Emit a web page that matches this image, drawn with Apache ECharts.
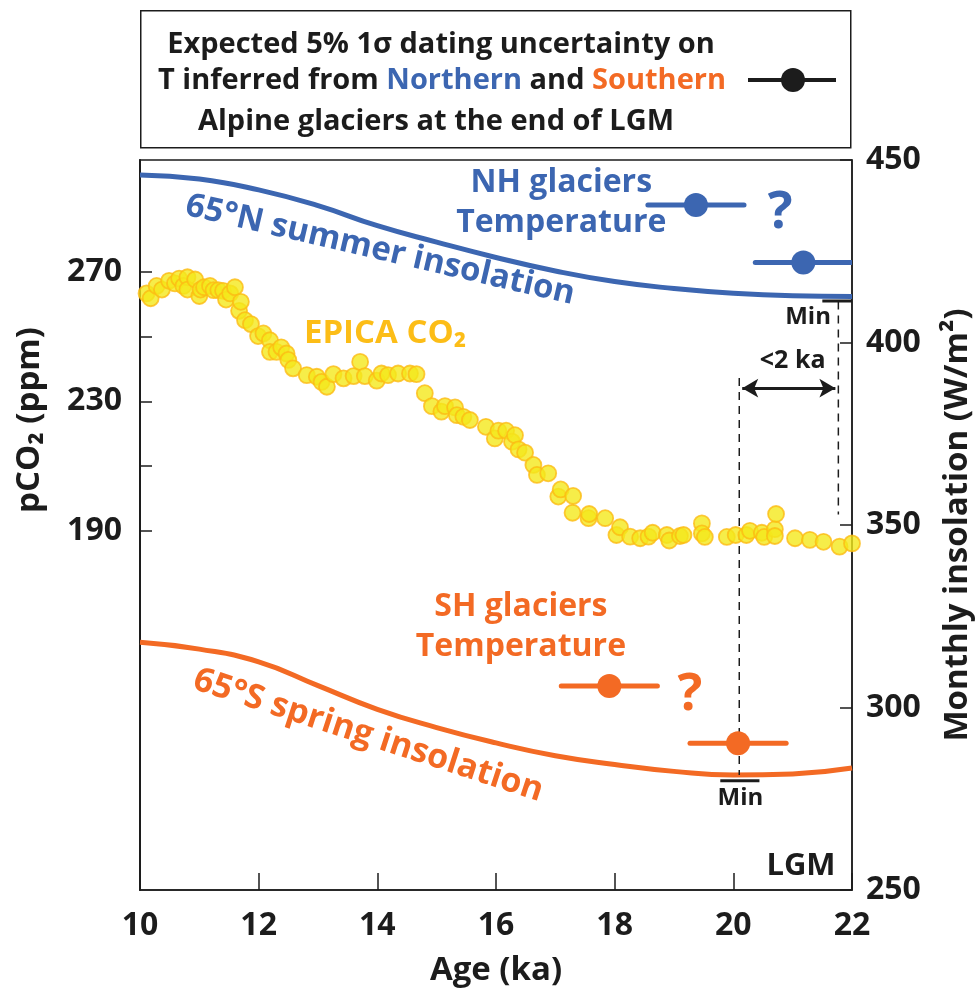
<!DOCTYPE html>
<html>
<head>
<meta charset="utf-8">
<script src="https://cdn.jsdelivr.net/npm/echarts@6/dist/echarts.min.js"></script>
<style>
  html, body { margin: 0; padding: 0; background: #fff; }
  #chart { width: 977px; height: 989px; }
</style>
</head>
<body>
<div id="chart"></div>
<script>
// EPICA CO2 (age ka, ppm)
const co2Age = [9.95, 10.11, 10.18, 10.28, 10.37, 10.49, 10.59, 10.66, 10.73, 10.8, 10.8, 10.93, 11.0, 11.02, 11.08,
  11.18, 11.24, 11.32, 11.4, 11.45, 11.52, 11.6, 11.67, 11.7, 11.77, 11.87, 11.99, 12.08, 12.19, 12.19, 12.3, 12.38,
  12.47, 12.5, 12.58, 12.81, 12.98, 13.06, 13.15, 13.26, 13.43, 13.6, 13.71, 13.79, 13.99, 14.07, 14.18, 14.35, 14.55,
  14.66, 14.8, 14.92, 15.08, 15.14, 15.31, 15.34, 15.45, 15.56, 15.83, 15.98, 16.04, 16.17, 16.27, 16.32, 16.38, 16.49,
  16.63, 16.69, 16.88, 17.05, 17.09, 17.29, 17.3, 17.56, 17.57, 17.84, 18.03, 18.09, 18.26, 18.43, 18.57, 18.64, 18.88,
  18.92, 19.1, 19.16, 19.47, 19.47, 19.52, 19.89, 20.04, 20.22, 20.28, 20.48, 20.52, 20.7, 20.7, 20.72, 21.04, 21.29,
  21.52, 21.79, 22.0];
const co2Ppm = [264.2, 263.4, 261.9, 265.7, 264.6, 267.3, 266.5, 268, 265.7, 268.4, 264.6, 267.7, 262.6, 264.6, 265.3,
  265.7, 264.4, 264.4, 264.2, 261.5, 263.4, 265.3, 258, 260.8, 255.1, 253.9, 250.2, 251, 248.9, 245.3, 245.3, 246.7,
  244.8, 242.8, 240.2, 238.1, 237.6, 236, 234.5, 238.4, 237.1, 237.8, 242.2, 237.8, 236.4, 238.6, 238.1, 238.6, 238.6,
  238.4, 232.5, 228.5, 226.8, 228.5, 228.1, 225.7, 225.2, 224.2, 222.1, 218.5, 220.9, 220.9, 217.5, 219.5, 215.1, 214.1,
  210.3, 207.2, 207.7, 200.5, 202.7, 195.5, 200.7, 193.8, 195.1, 193.8, 188.6, 191, 188.1, 187.6, 188.1, 189.3, 188.6,
  186.9, 188.3, 188.6, 192.2, 189.1, 188, 188, 188.6, 188.6, 189.9, 189.3, 188, 190.4, 188.3, 195.1, 187.6, 187.1,
  186.5, 185, 186];

// insolation curves (W/m2)
const insAge = [10, 11, 12, 13, 14, 15, 16, 17, 18, 19, 20, 21, 22];
const nhSummer = [445.9, 444.8, 441.8, 437.5, 432.0, 427.5, 423.3, 419.6, 416.7, 414.8, 413.5, 412.8, 412.6];
const shSpring = [317.9, 316.0, 312.5, 306.0, 299.5, 294.5, 290.3, 286.8, 284.4, 282.5, 281.5, 281.8, 283.4];

// glacier temperature timing, 1 sigma error (ka)
const nhGlacier = [[19.37, 437.7, 0.81], [21.18, 421.9, 0.81]];
const shGlacier = [[17.91, 305.9, 0.81], [20.08, 290.2, 0.81]];

// annotation lines
const lgmDash = [[20.1, 390.3], [20.1, 281.5]];
const nhMinDash = [[21.77, 411.2], [21.77, 352.9]];
const nhMinBar = [[21.5, 411.4], [22, 411.4]];
const shMinBar = [[19.78, 279.9], [20.44, 279.9]];
const lagArrow = [[20.15, 387.5], [21.72, 387.5]];

const co2Ticks = [190, 210, 230, 250, 270];
const co2Labels = [190, 230, 270];

const BLUE = '#3c66b1';
const ORANGE = '#f36a24';
const INK = '#1c1c1c';
const FONT = '"Open Sans", "Noto Sans", sans-serif';

const chart = echarts.init(document.getElementById('chart'));

function errBar(color) {
  return function (params, api) {
    const x = api.value(0), y = api.value(1), e = api.value(2);
    const c = api.coord([x, y]);
    const l = api.coord([x - e, y]);
    const r = api.coord([x + e, y]);
    return {
      type: 'group',
      children: [
        { type: 'line', shape: { x1: l[0], y1: l[1], x2: r[0], y2: r[1] },
          style: { stroke: color, lineWidth: 5, lineCap: 'round' } },
        { type: 'circle', shape: { cx: c[0], cy: c[1], r: 12 }, style: { fill: color } }
      ]
    };
  };
}

function note(text, x, y, color, size, rotate) {
  return {
    value: [x, y],
    label: {
      show: true, position: 'inside', formatter: text, color: color,
      fontSize: size, fontWeight: 'bold', fontFamily: FONT, rotate: rotate || 0,
      lineHeight: size * 1.25, textBorderWidth: 0, opacity: 1
    }
  };
}

function segment(data, dashed, width) {
  return {
    type: 'line', yAxisIndex: 1, data: data, symbol: 'none', silent: true,
    lineStyle: { color: INK, width: width || 1.5, type: dashed ? [8, 6] : 'solid' },
    z: 3
  };
}

const tickFont = { fontSize: 32, fontWeight: 'bold', color: INK, fontFamily: FONT };
const nameFont = { fontSize: 33, fontWeight: 'bold', color: INK, fontFamily: FONT };
const boxRich = {
  k: { fontSize: 29, fontWeight: 'bold', fill: INK, fontFamily: FONT },
  b: { fontSize: 29, fontWeight: 'bold', fill: BLUE, fontFamily: FONT },
  o: { fontSize: 29, fontWeight: 'bold', fill: ORANGE, fontFamily: FONT }
};

const option = {
  animation: false,
  grid: {
    left: 140, right: 125, top: 160, bottom: 99, show: true, borderColor: INK, borderWidth: 1.5,
    outerBoundsMode: 'none', containLabel: false
  },
  xAxis: {
    type: 'value', min: 10, max: 22, interval: 2,
    name: 'Age (ka)', nameLocation: 'middle', nameGap: 64, nameTextStyle: nameFont,
    axisLine: { lineStyle: { color: INK, width: 1.5 } },
    axisTick: { inside: true, length: 17, lineStyle: { color: INK, width: 1.5 } },
    axisLabel: Object.assign({ margin: 20 }, tickFont),
    splitLine: { show: false }
  },
  yAxis: [
    {
      type: 'value', min: 78.7, max: 304.7, position: 'left',
      axisLine: { show: true, lineStyle: { color: INK, width: 2 } },
      axisTick: { inside: true, length: 12, customValues: co2Ticks, lineStyle: { color: INK, width: 1.5 } },
      axisLabel: Object.assign({ customValues: co2Labels, margin: 18 }, tickFont),
      splitLine: { show: false }
    },
    {
      type: 'value', min: 250, max: 450, interval: 50, position: 'right',
      name: 'Monthly insolation (W/m²)', nameLocation: 'middle', nameGap: 89, nameRotate: 90,
      nameTextStyle: nameFont,
      axisLine: { show: true, lineStyle: { color: INK, width: 1.5 } },
      axisTick: { inside: true, length: 12, lineStyle: { color: INK, width: 1.5 } },
      axisLabel: Object.assign({ margin: 14 }, tickFont),
      splitLine: { show: false }
    }
  ],
  graphic: [
    {
      type: 'text', x: 30, y: 420, rotation: Math.PI / 2,
      style: { text: 'pCO₂ (ppm)', fontSize: 33, fontWeight: 'bold', fill: INK, fontFamily: FONT,
        align: 'center', verticalAlign: 'middle' }
    },
    {
      type: 'rect', left: 140, top: 10, shape: { width: 710, height: 137 },
      style: { fill: '#fff', stroke: INK, lineWidth: 1.5 }
    },
    {
      type: 'text', x: 441, y: 45,
      style: { text: '{k|Expected 5% 1σ dating uncertainty on}', rich: boxRich, align: 'center', verticalAlign: 'middle' }
    },
    {
      type: 'text', x: 442, y: 81,
      style: { text: '{k|T inferred from }{b|Northern}{k| and }{o|Southern}', rich: boxRich, align: 'center', verticalAlign: 'middle' }
    },
    {
      type: 'text', x: 436, y: 122,
      style: { text: '{k|Alpine glaciers at the end of LGM}', rich: boxRich, align: 'center', verticalAlign: 'middle' }
    },
    {
      type: 'line', shape: { x1: 748, y1: 80, x2: 836, y2: 80 },
      style: { stroke: INK, lineWidth: 4 }
    },
    {
      type: 'circle', shape: { cx: 793, cy: 80, r: 12 }, style: { fill: INK }
    }
  ],
  series: [
    {
      type: 'line', yAxisIndex: 1, smooth: true, symbol: 'none',
      data: insAge.map((a, i) => [a, nhSummer[i]]),
      lineStyle: { color: BLUE, width: 5 }, z: 2
    },
    {
      type: 'line', yAxisIndex: 1, smooth: true, symbol: 'none',
      data: insAge.map((a, i) => [a, shSpring[i]]),
      lineStyle: { color: ORANGE, width: 5 }, z: 2
    },
    {
      type: 'scatter', yAxisIndex: 0, symbolSize: 16,
      data: co2Age.map((a, i) => [a, co2Ppm[i]]),
      itemStyle: { color: '#f4e91c', borderColor: '#fdbb14', borderWidth: 1.8 }, z: 4
    },
    segment(lgmDash, true),
    segment(nhMinDash, true),
    segment(nhMinBar, false, 3),
    segment(shMinBar, false, 3),
    {
      type: 'line', yAxisIndex: 1, data: [], symbol: 'none',
      markLine: {
        silent: true, symbol: ['arrow', 'arrow'], symbolSize: [14, 16],
        label: { show: false },
        lineStyle: { color: INK, width: 3, type: 'solid' },
        data: [[{ coord: lagArrow[0] }, { coord: lagArrow[1] }]]
      }
    },
    {
      type: 'custom', yAxisIndex: 1, renderItem: errBar(BLUE), data: nhGlacier, clip: true, z: 5
    },
    {
      type: 'custom', yAxisIndex: 1, renderItem: errBar(ORANGE), data: shGlacier, clip: true, z: 5
    },
    {
      type: 'scatter', yAxisIndex: 1, symbolSize: 1, itemStyle: { color: 'transparent' }, silent: true, z: 6,
      data: [
        note('NH glaciers\nTemperature', 17.1, 438.2, BLUE, 32),
        note('65°N summer insolation', 14.05, 425.3, BLUE, 33, -13),
        note('SH glaciers\nTemperature', 16.42, 322, ORANGE, 32),
        note('65°S spring insolation', 13.85, 292.3, ORANGE, 34, -18),
        note('?', 20.79, 435.5, BLUE, 52),
        note('?', 19.27, 303.4, ORANGE, 52),
        note('Min', 21.26, 407, INK, 24),
        note('Min', 20.12, 275.2, INK, 24),
        note('<2 ka', 21.0, 394.9, INK, 25),
        note('LGM', 21.14, 256.6, INK, 31)
      ]
    },
    {
      type: 'scatter', yAxisIndex: 0, symbolSize: 1, itemStyle: { color: 'transparent' }, silent: true, z: 6,
      data: [note('EPICA CO₂', 14.13, 251.1, '#fcbd17', 33)]
    }
  ]
};

chart.setOption(option);
</script>
</body>
</html>
